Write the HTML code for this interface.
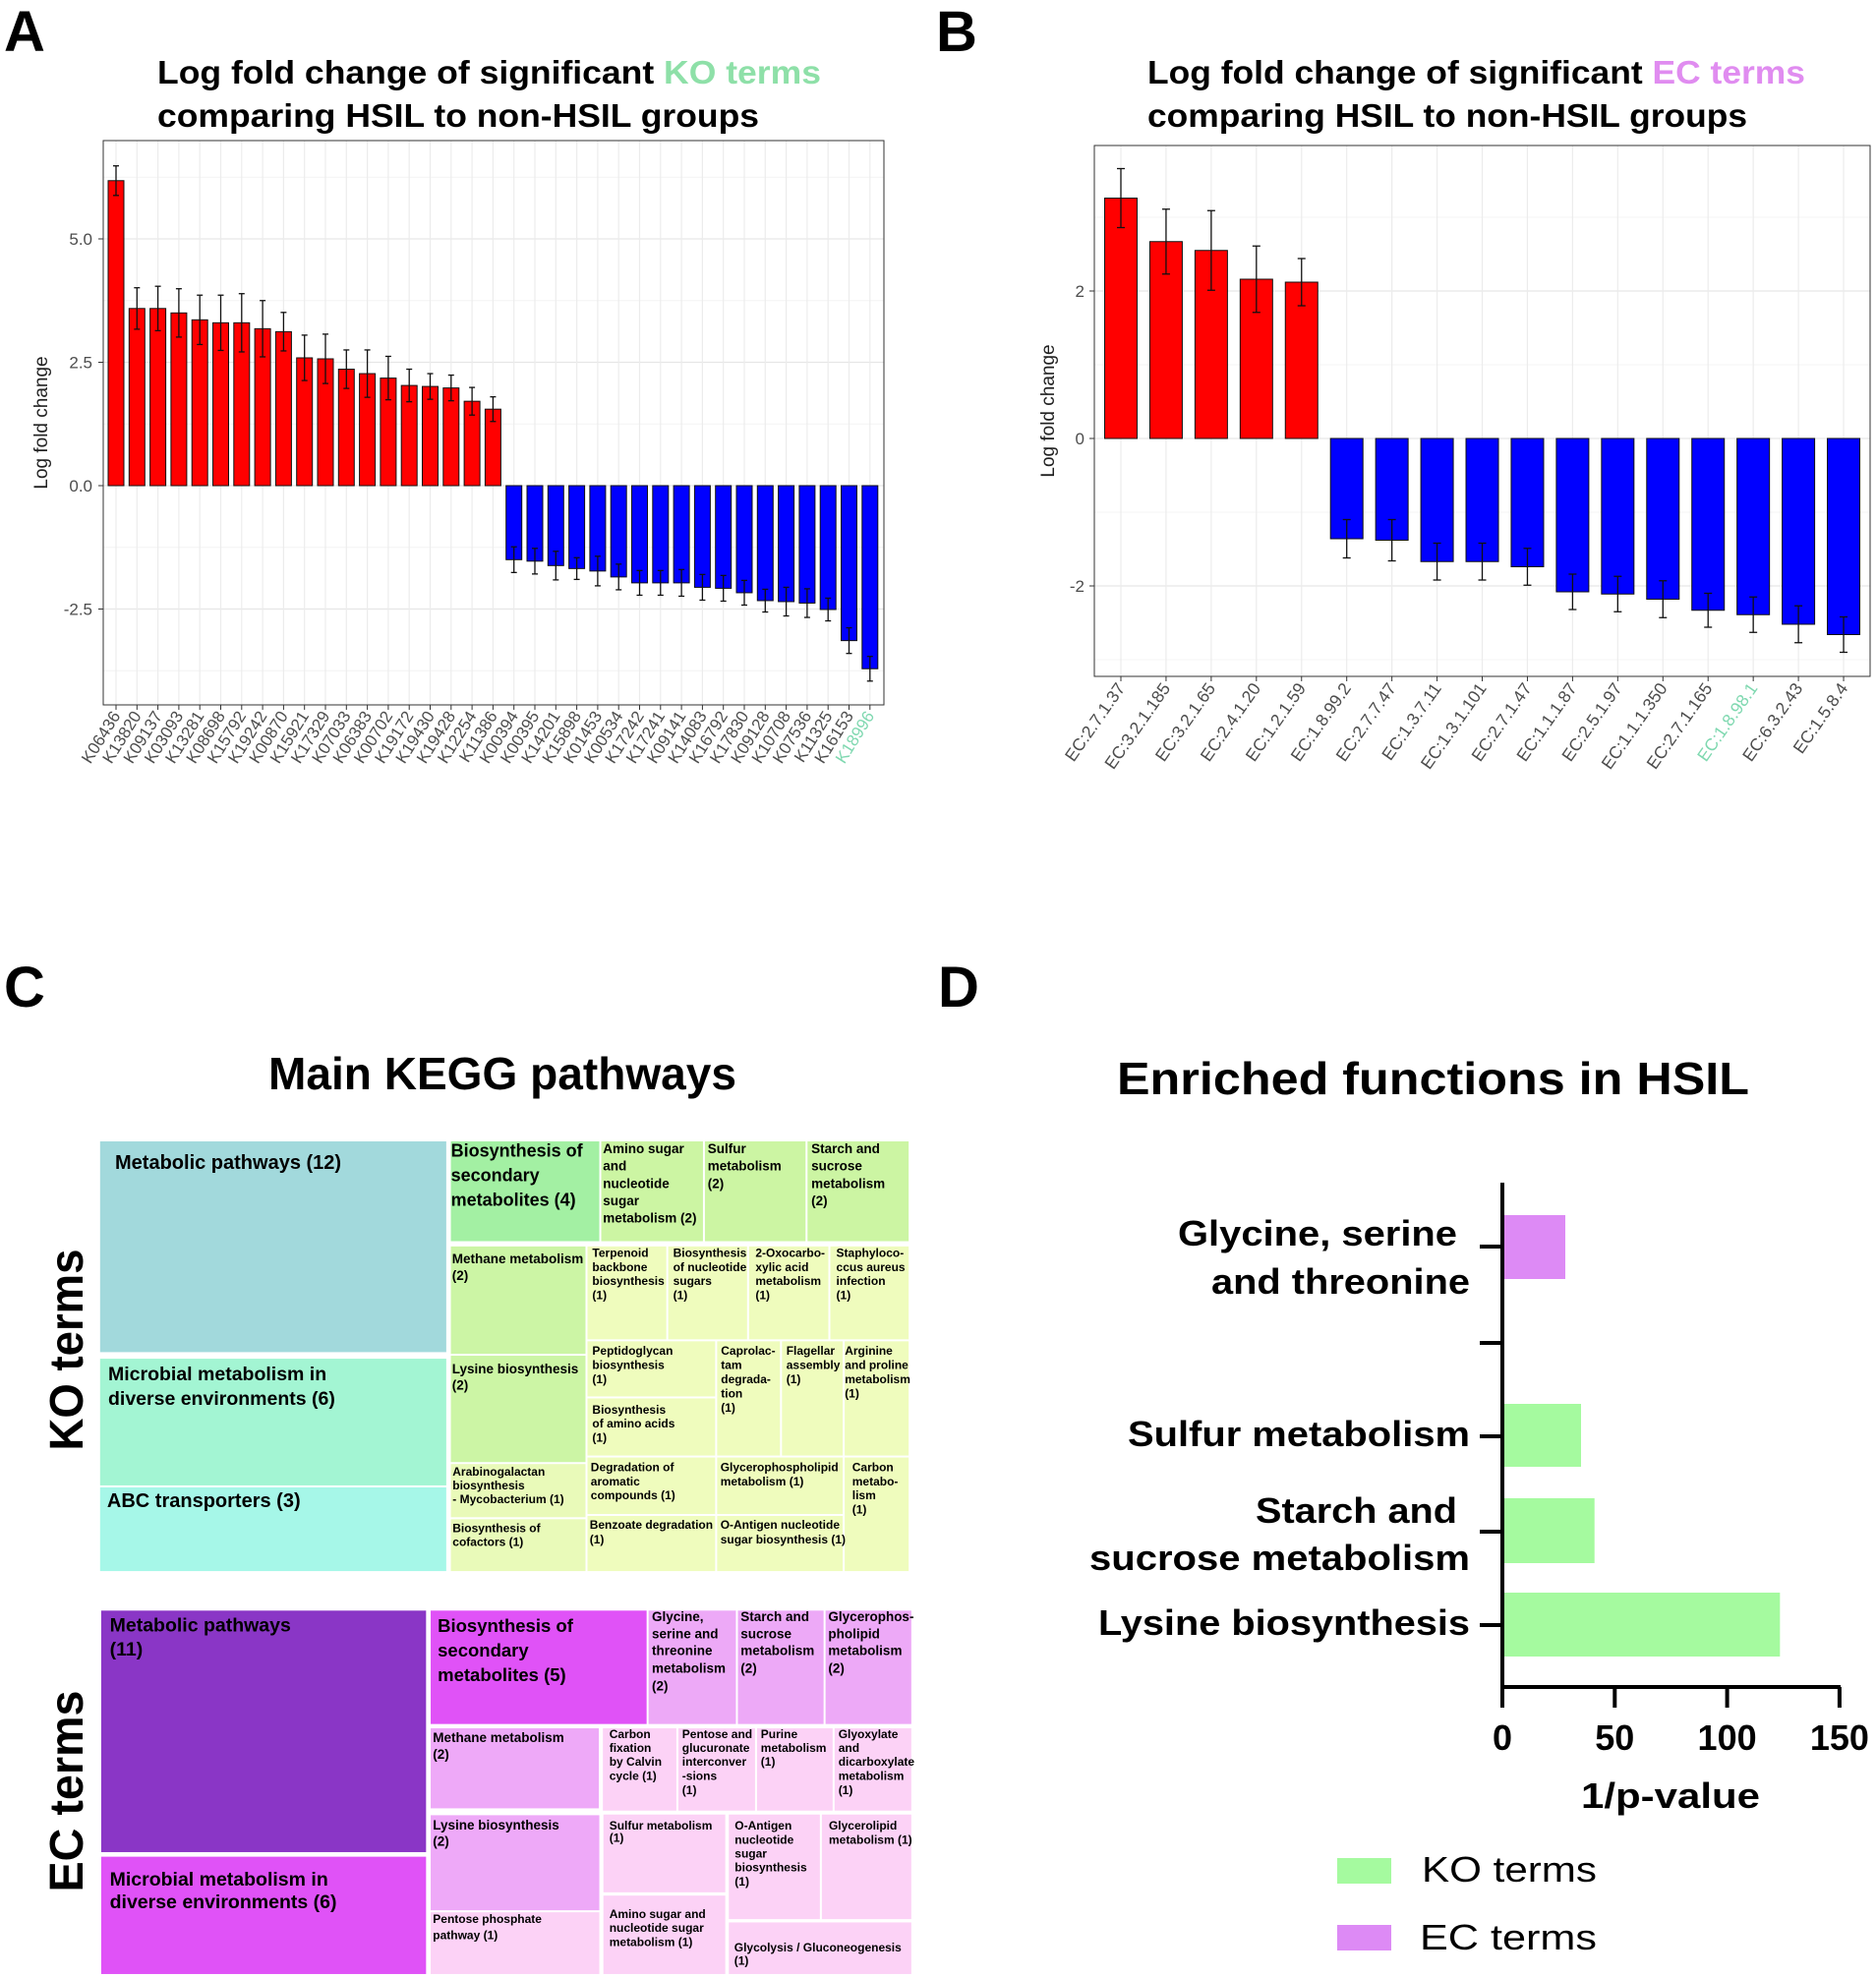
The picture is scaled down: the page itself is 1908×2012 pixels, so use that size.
<!DOCTYPE html>
<html><head><meta charset="utf-8"><style>
html,body{margin:0;padding:0;background:#fff;}
svg{display:block;font-family:"Liberation Sans",Arial,sans-serif;}
</style></head><body>
<svg id="s" width="1908" height="2012" viewBox="0 0 1908 2012"></svg>
<script>
let o='';
function T(x,y,t,fs,opt){opt=opt||{};o+=`<text x="${x}" y="${y}" font-size="${fs}" ${opt.b?'font-weight="bold"':''} fill="${opt.f||'#000'}" ${opt.a?`text-anchor="${opt.a}"`:''} ${opt.tl?`textLength="${opt.tl}" lengthAdjust="spacingAndGlyphs"`:''} ${opt.tr?`transform="${opt.tr}"`:''} ${opt.ff?`font-family='${opt.ff}'`:''}>${t}</text>`;}
function R(x,y,w,h,f,st){o+=`<rect x="${x}" y="${y}" width="${w}" height="${h}" fill="${f}" ${st?`stroke="${st}" stroke-width="1"`:''}/>`;}
function L(x1,y1,x2,y2,c,w){o+=`<line x1="${x1}" y1="${y1}" x2="${x2}" y2="${y2}" stroke="${c}" stroke-width="${w}"/>`;}

['A',4,52,'B',952,52,'C',4,1024,'D',954,1024].reduce((a,v,i,arr)=>{if(i%3==0)T(arr[i+1],arr[i+2],v,58,{b:1});},0);

// ---------- Panel A ----------
o+=`<text x="160" y="85" font-size="33" font-weight="bold" textLength="675" lengthAdjust="spacingAndGlyphs">Log fold change of significant <tspan fill="#8ee0a8">KO terms</tspan></text>`;
T(160,129,'comparing HSIL to non-HSIL groups',33,{b:1,tl:612});
{
const x0=105,x1=899,y0=143,y1=717,zy=494,k=50.2;
const Y=v=>zy-v*k;
for(const v of [-3.75,-1.25,1.25,3.75,6.25])L(x0,Y(v),x1,Y(v),'#f4f4f4',1);
for(const v of [-2.5,0,2.5,5])L(x0,Y(v),x1,Y(v),'#e6e6e6',1.3);
const names=['K06436','K13820','K09137','K03093','K13281','K08698','K15792','K19242','K00870','K15921','K17329','K07033','K06383','K00702','K19172','K19430','K19428','K12254','K11386','K00394','K00395','K14201','K15898','K01453','K00534','K17242','K17241','K09141','K14083','K16792','K17830','K09128','K10708','K07536','K11325','K16153','K18996'];
const vals=[6.18,3.59,3.59,3.50,3.36,3.30,3.30,3.18,3.12,2.59,2.57,2.36,2.27,2.18,2.03,2.01,1.98,1.71,1.55,-1.50,-1.53,-1.62,-1.68,-1.73,-1.85,-1.97,-1.97,-1.97,-2.06,-2.08,-2.17,-2.33,-2.35,-2.38,-2.51,-3.14,-3.71];
const errs=[0.30,0.42,0.45,0.49,0.50,0.56,0.59,0.57,0.39,0.46,0.50,0.39,0.48,0.44,0.33,0.26,0.26,0.28,0.25,0.26,0.26,0.29,0.22,0.30,0.26,0.25,0.25,0.27,0.26,0.26,0.25,0.23,0.29,0.29,0.23,0.26,0.25];
names.forEach((n,i)=>{const xc=118+i*21.3;L(xc,y0,xc,y1,'#ececec',1.2);});
names.forEach((n,i)=>{const xc=118+i*21.3,v=vals[i],e=errs[i];
 const top=Math.min(Y(v),Y(0)),h=Math.abs(Y(v)-Y(0));
 R(xc-8,top,16,h,v>0?'#ff0000':'#0000ff','#111');
 L(xc,Y(v-e),xc,Y(v+e),'#111',1.3);L(xc-3,Y(v-e),xc+3,Y(v-e),'#111',1.3);L(xc-3,Y(v+e),xc+3,Y(v+e),'#111',1.3);
 L(xc,y1,xc,y1+5,'#333',1);
 T(xc+5,728,n,17,{a:'end',f:i==36?'#7fd8b0':'#4d4d4d',tr:`rotate(-58 ${xc+5} 728)`});
});
R(x0,y0,x1-x0,y1-y0,'none','#333');
[['5.0',5],['2.5',2.5],['0.0',0],['-2.5',-2.5]].forEach(([t,v])=>{T(94,Y(v)+6,t,17,{a:'end',f:'#4d4d4d'});L(x0-5,Y(v),x0,Y(v),'#333',1);});
T(48,430,'Log fold change',19,{a:'middle',f:'#222',tr:'rotate(-90 48 430)'});
}

// ---------- Panel B ----------
o+=`<text x="1167" y="85" font-size="33" font-weight="bold" textLength="669" lengthAdjust="spacingAndGlyphs">Log fold change of significant <tspan fill="#e08cf0">EC terms</tspan></text>`;
T(1167,129,'comparing HSIL to non-HSIL groups',33,{b:1,tl:610});
{
const x0=1113,x1=1902,y0=148,y1=688,zy=446,k=75;
const Y=v=>zy-v*k;
for(const v of [-3,-1,1,3])L(x0,Y(v),x1,Y(v),'#f4f4f4',1);
for(const v of [-2,0,2])L(x0,Y(v),x1,Y(v),'#e6e6e6',1.3);
const names=['EC:2.7.1.37','EC:3.2.1.185','EC:3.2.1.65','EC:2.4.1.20','EC:1.2.1.59','EC:1.8.99.2','EC:2.7.7.47','EC:1.3.7.11','EC:1.3.1.101','EC:2.7.1.47','EC:1.1.1.87','EC:2.5.1.97','EC:1.1.1.350','EC:2.7.1.165','EC:1.8.98.1','EC:6.3.2.43','EC:1.5.8.4'];
const vals=[3.26,2.67,2.55,2.16,2.12,-1.36,-1.38,-1.67,-1.67,-1.74,-2.08,-2.11,-2.18,-2.33,-2.39,-2.52,-2.66];
const errs=[0.40,0.44,0.54,0.45,0.32,0.26,0.28,0.25,0.25,0.25,0.24,0.24,0.25,0.23,0.24,0.25,0.24];
names.forEach((n,i)=>{const xc=1140+i*45.94;L(xc,y0,xc,y1,'#ececec',1.2);});
names.forEach((n,i)=>{const xc=1140+i*45.94,v=vals[i],e=errs[i];
 const top=Math.min(Y(v),Y(0)),h=Math.abs(Y(v)-Y(0));
 R(xc-16.5,top,33,h,v>0?'#ff0000':'#0000ff','#111');
 L(xc,Y(v-e),xc,Y(v+e),'#111',1.3);L(xc-4,Y(v-e),xc+4,Y(v-e),'#111',1.3);L(xc-4,Y(v+e),xc+4,Y(v+e),'#111',1.3);
 L(xc,y1,xc,y1+5,'#333',1);
 T(xc+5,700,n,17.5,{a:'end',f:i==14?'#7fd8b0':'#4d4d4d',tr:`rotate(-55 ${xc+5} 700)`});
});
R(x0,y0,x1-x0,y1-y0,'none','#333');
[['2',2],['0',0],['-2',-2]].forEach(([t,v])=>{T(1103,Y(v)+6,t,17,{a:'end',f:'#4d4d4d'});L(x0-5,Y(v),x0,Y(v),'#333',1);});
T(1072,418,'Log fold change',19,{a:'middle',f:'#222',tr:'rotate(-90 1072 418)'});
}

// ---------- Panel C ----------
T(511,1108,'Main KEGG pathways',46,{b:1,a:'middle',tl:476});
T(84,1373,'KO terms',48,{b:1,a:'middle',tr:'rotate(-90 84 1373)',tl:205});
T(84,1822,'EC terms',48,{b:1,a:'middle',tr:'rotate(-90 84 1822)',tl:205});
const NF='"Liberation Sans Narrow","Liberation Sans",Arial,sans-serif';
function tm(items,ox,oy,sx,sy){
 items.forEach(it=>{const [a,b,c,d,col,fs,tx,lines,cs]=it;
  const X0=ox+a/sx,Y0=oy+b/sy,X1=ox+c/sx,Y1=oy+d/sy;
  R(X0+1,Y0+1,X1-X0-2,Y1-Y0-2,col);
  lines.forEach((ln,j)=>{T(ox+tx/sx,oy+cs[j]/sy+fs*0.36,ln,fs,{b:1,ff:fs<16?NF:'"Liberation Sans",Arial,sans-serif'});});
 });
}
const kc=[
[20,30,675,678,'#a2d9dc',20,50,['Metabolic pathways (12)'],[95]],
[20,692,675,1084,'#a3f5d3',19.5,37,['Microbial metabolism in','diverse environments (6)'],[740,815]],
[20,1084,675,1345,'#a6f7e8',20,35,['ABC transporters (3)'],[1125]],
[680,30,963,340,'#a3f0a3',18,682,['Biosynthesis of','secondary','metabolites (4)'],[60,135,210]],
[963,30,1158,340,'#ccf5a3',13.5,968,['Amino sugar','and','nucleotide','sugar','metabolism (2)'],[55,107,160,213,265]],
[1158,30,1351,340,'#ccf5a3',13.5,1165,['Sulfur','metabolism','(2)'],[55,107,160]],
[1351,30,1545,340,'#ccf5a3',13.5,1360,['Starch and','sucrose','metabolism','(2)'],[55,107,160,213]],
[680,350,937,683,'#ccf5a5',13.5,684,['Methane metabolism','(2)'],[390,440]],
[680,683,937,1013,'#ccf5a5',13.5,684,['Lysine biosynthesis','(2)'],[725,775]],
[680,1013,937,1181,'#e9fab9',12,685,['Arabinogalactan','biosynthesis','- Mycobacterium (1)'],[1038,1080,1122]],
[680,1181,937,1345,'#e9fab9',12,685,['Biosynthesis of','cofactors (1)'],[1210,1252]],
[937,350,1089,639,'#effcbd',12,948,['Terpenoid','backbone','biosynthesis','(1)'],[372,415,457,500]],
[1089,350,1241,639,'#effcbd',12,1100,['Biosynthesis','of nucleotide','sugars','(1)'],[372,415,457,500]],
[1241,350,1394,639,'#effcbd',12,1255,['2-Oxocarbo-','xylic acid','metabolism','(1)'],[372,415,457,500]],
[1394,350,1545,639,'#effcbd',12,1407,['Staphyloco-','ccus aureus','infection','(1)'],[372,415,457,500]],
[937,639,1181,813,'#effcbd',12,948,['Peptidoglycan','biosynthesis','(1)'],[670,713,757]],
[937,813,1181,993,'#effcbd',12,948,['Biosynthesis','of amino acids','(1)'],[850,892,935]],
[1181,639,1303,993,'#effcbd',12,1190,['Caprolac-','tam','degrada-','tion','(1)'],[670,713,757,800,843]],
[1303,639,1421,993,'#effcbd',12,1313,['Flagellar','assembly','(1)'],[670,713,757]],
[1421,639,1545,993,'#effcbd',12,1423,['Arginine','and proline','metabolism','(1)'],[670,713,757,800]],
[937,993,1181,1171,'#effcbd',12,945,['Degradation of','aromatic','compounds (1)'],[1025,1068,1110]],
[1181,993,1421,1171,'#effcbd',12,1189,['Glycerophospholipid','metabolism (1)'],[1025,1068]],
[1421,993,1545,1345,'#effcbd',12,1437,['Carbon','metabo-','lism','(1)'],[1025,1068,1110,1153]],
[937,1171,1181,1345,'#effcbd',12,943,['Benzoate degradation','(1)'],[1200,1245]],
[1181,1171,1421,1345,'#effcbd',12,1189,['O-Antigen nucleotide','sugar biosynthesis (1)'],[1200,1245]]
];
tm(kc,90,1150,1.85,2.995);
const ec=[
[22,52,637,797,'#8a36c6',19.5,40,['Metabolic pathways','(11)'],[97,172]],
[22,805,637,1170,'#e052f7',19.5,40,['Microbial metabolism in','diverse environments (6)'],[875,945]],
[642,52,1052,405,'#e052f7',18.5,657,['Biosynthesis of','secondary','metabolites (5)'],[100,175,250]],
[1052,52,1220,405,'#eda9f7',13.5,1060,['Glycine,','serine and','threonine','metabolism','(2)'],[72,125,177,230,285]],
[1220,52,1385,405,'#eda9f7',13.5,1227,['Starch and','sucrose','metabolism','(2)'],[72,125,177,230]],
[1385,52,1550,405,'#eda9f7',13.5,1392,['Glycerophos-','pholipid','metabolism','(2)'],[72,125,177,230]],
[642,412,962,663,'#eea9f8',13.5,648,['Methane metabolism','(2)'],[443,493]],
[966,412,1108,670,'#fcd2f6',12,980,['Carbon','fixation','by Calvin','cycle (1)'],[432,475,517,560]],
[1108,412,1256,670,'#fcd2f6',12,1117,['Pentose and','glucuronate','interconver','-sions','(1)'],[432,475,517,560,603]],
[1256,412,1402,670,'#fcd2f6',12,1265,['Purine','metabolism','(1)'],[432,475,517]],
[1402,412,1550,670,'#fcd2f6',12,1411,['Glyoxylate','and','dicarboxylate','metabolism','(1)'],[432,475,517,560,603]],
[642,678,963,975,'#eea9f8',13.5,648,['Lysine biosynthesis','(2)'],[710,760]],
[642,975,963,1170,'#fcd2f6',12,648,['Pentose phosphate','pathway (1)'],[998,1048]],
[967,676,1200,920,'#fcd2f6',12,980,['Sulfur metabolism','(1)'],[712,750]],
[967,924,1200,1170,'#fcd2f6',12,980,['Amino sugar and','nucleotide sugar','metabolism (1)'],[982,1025,1068]],
[1203,676,1378,1002,'#fcd2f6',12,1216,['O-Antigen','nucleotide','sugar','biosynthesis','(1)'],[712,755,797,840,883]],
[1378,676,1550,1002,'#fcd2f6',12,1393,['Glycerolipid','metabolism (1)'],[712,755]],
[1203,1006,1550,1170,'#fcd2f6',12,1215,['Glycolysis / Gluconeogenesis','(1)'],[1085,1125]]
];
tm(ec,90,1620,1.85,3.008);

// ---------- Panel D ----------
T(1136,1113,'Enriched functions in HSIL',46,{b:1,tl:643});
{
const ax=1528,ay=1716,k=114.3/50;
const X=v=>ax+v*k;
R(ax,1236,X(28)-ax,65,'#dd8af5');
R(ax,1428,X(35)-ax,64,'#a5fa9f');
R(ax,1524,X(41)-ax,66,'#a5fa9f');
R(ax,1620,X(123.5)-ax,65,'#a5fa9f');
L(ax,1203,ax,ay+2,'#000',4);
L(ax-2,ay,1872,ay,'#000',4);
[1268,1366,1461,1558,1653].forEach(y=>L(1505,y,ax,y,'#000',4));
[[0,'0'],[50,'50'],[100,'100'],[150,'150']].forEach(([v,t])=>{L(X(v),ay,X(v),1737,'#000',4);T(X(v),1780,t,36,{b:1,a:'middle'});});
T(1699,1839,'1/p-value',36,{b:1,a:'middle',tl:182});
T(1482,1267,'Glycine, serine',36,{b:1,a:'end',tl:284});
T(1495,1316,'and threonine',36,{b:1,a:'end',tl:263});
T(1495,1471,'Sulfur metabolism',36,{b:1,a:'end',tl:348});
T(1482,1549,'Starch and',36,{b:1,a:'end',tl:205});
T(1495,1597,'sucrose metabolism',36,{b:1,a:'end',tl:387});
T(1495,1663,'Lysine biosynthesis',36,{b:1,a:'end',tl:378});
R(1360,1890,55,26,'#a5fa9f');
T(1446,1914,'KO terms',36,{tl:178});
R(1360,1958,55,26,'#dd8af5');
T(1444,1983,'EC terms',36,{tl:180});
}
document.getElementById('s').innerHTML=o;
</script>
</body></html>
